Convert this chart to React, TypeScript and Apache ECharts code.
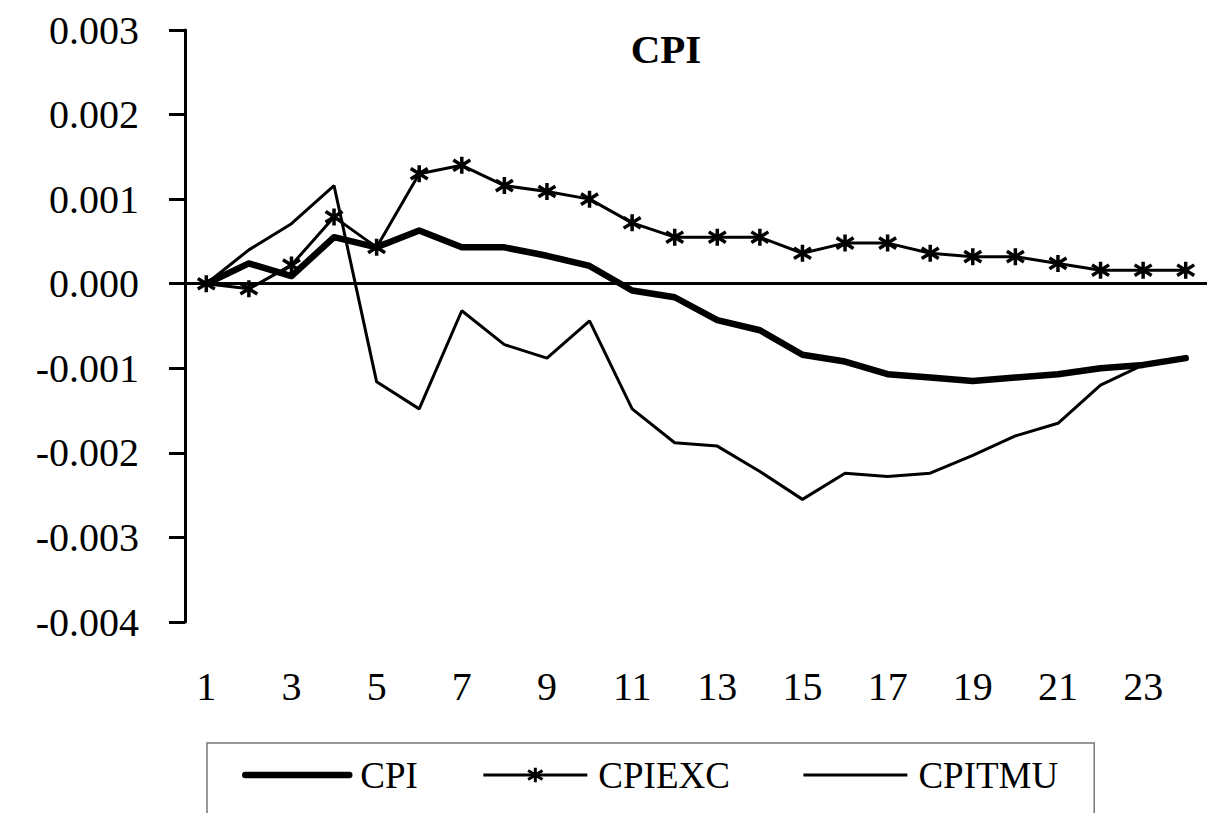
import React, { useEffect, useRef } from "react";
import * as echarts from "echarts";

const categories = ["1","2","3","4","5","6","7","8","9","10","11","12","13","14","15","16","17","18","19","20","21","22","23","24"];
const cpi = [0, 0.00024, 0.00009, 0.00055, 0.00043, 0.00063, 0.00043, 0.00043, 0.00033, 0.00021, -0.00008, -0.00016, -0.00043, -0.00055, -0.00084, -0.00092, -0.00107, -0.00111, -0.00115, -0.00111, -0.00107, -0.001, -0.00096, -0.00088];
const cpiexc = [0, -0.00006, 0.00022, 0.00079, 0.00043, 0.0013, 0.0014, 0.00116, 0.00109, 0.001, 0.00072, 0.00055, 0.00055, 0.00055, 0.00036, 0.00048, 0.00048, 0.00036, 0.00032, 0.00032, 0.00024, 0.00016, 0.00016, 0.00016];
const cpitmu = [0, 0.0004, 0.00071, 0.00116, -0.00116, -0.00148, -0.00032, -0.00072, -0.00088, -0.00044, -0.00148, -0.00188, -0.00192, -0.00222, -0.00255, -0.00224, -0.00228, -0.00224, -0.00203, -0.0018, -0.00165, -0.0012, -0.00096, -0.00088];
const seriesNames = ["CPI", "CPIEXC", "CPITMU"];
const titleText = "CPI";

const FONT = "'Liberation Serif', 'Times New Roman', serif";
const STAR = "path://M8,0L8,16M1,3L15,13M1,13L15,3";

export default function App() {
  const ref = useRef<HTMLDivElement>(null);
  useEffect(() => {
    if (!ref.current) return;
    const chart = echarts.init(ref.current, null, { renderer: "svg" });
    chart.setOption({
      animation: false,
      backgroundColor: "#fff",
      grid: { left: 185, top: 30, width: 1022, height: 592, containLabel: false },
      graphic: [
        {
          type: "text",
          x: 666,
          y: 49,
          style: {
            text: titleText,
            font: `bold 41px ${FONT}`,
            fill: "#000",
            textAlign: "center",
            textVerticalAlign: "middle",
          },
        },
      ],
      legend: {
        data: [
          { name: seriesNames[0], lineStyle: { color: "#000", width: 6.5 }, itemStyle: { color: "rgba(0,0,0,0)", borderWidth: 0, opacity: 0 } },
          { name: seriesNames[1], lineStyle: { color: "#000", width: 3 }, itemStyle: { color: "#000", borderColor: "#000", borderWidth: 3 }, textStyle: { padding: [0, 8, 0, 6] } },
          { name: seriesNames[2], lineStyle: { color: "#000", width: 3 }, itemStyle: { color: "rgba(0,0,0,0)", borderWidth: 0, opacity: 0 } },
        ],
        left: 207,
        top: 743,
        orient: "horizontal",
        padding: [12, 36, 60, 35],
        borderColor: "#777",
        borderWidth: 1.5,
        itemGap: 64,
        itemWidth: 104,
        itemHeight: 18,
        textStyle: {
          fontFamily: FONT,
          fontSize: 37,
          color: "#000",
          lineHeight: 40,
          padding: [0, 0, 0, 6],
        },
      },
      xAxis: {
        type: "category",
        data: categories,
        boundaryGap: true,
        axisLine: { show: false, onZero: false },
        axisTick: { show: false },
        axisLabel: {
          interval: 1,
          margin: 44,
          fontFamily: FONT,
          fontSize: 40,
          color: "#000",
        },
        splitLine: { show: false },
      },
      yAxis: {
        type: "value",
        min: -0.004,
        max: 0.003,
        interval: 0.001,
        axisLine: { show: true, lineStyle: { color: "#000", width: 3 } },
        axisTick: { show: true, length: 16, lineStyle: { color: "#000", width: 3 } },
        axisLabel: {
          margin: 46,
          fontFamily: FONT,
          fontSize: 40,
          color: "#000",
          formatter: (v: number) => v.toFixed(3),
        },
        splitLine: { show: false },
      },
      series: [
        {
          name: seriesNames[0],
          type: "line",
          data: cpi,
          symbol: "none",
          lineStyle: { color: "#000", width: 6.5, cap: "round", join: "round" },
          itemStyle: { color: "#000" },
          z: 3,
          markLine: {
            silent: true,
            symbol: "none",
            label: { show: false },
            lineStyle: { color: "#000", width: 3, type: "solid" },
            data: [{ yAxis: 0 }],
          },
        },
        {
          name: seriesNames[1],
          type: "line",
          data: cpiexc,
          symbol: STAR,
          symbolSize: 17,
          lineStyle: { color: "#000", width: 3 },
          itemStyle: { color: "#000", borderColor: "#000", borderWidth: 3.5 },
          z: 4,
        },
        {
          name: seriesNames[2],
          type: "line",
          data: cpitmu,
          symbol: "none",
          lineStyle: { color: "#000", width: 3 },
          itemStyle: { color: "#000" },
          z: 2,
        },
      ],
    });
    return () => chart.dispose();
  }, []);
  return (
    <div
      ref={ref}
      style={{ position: "absolute", left: 0, top: 0, width: 1207, height: 813, background: "#fff" }}
    />
  );
}
